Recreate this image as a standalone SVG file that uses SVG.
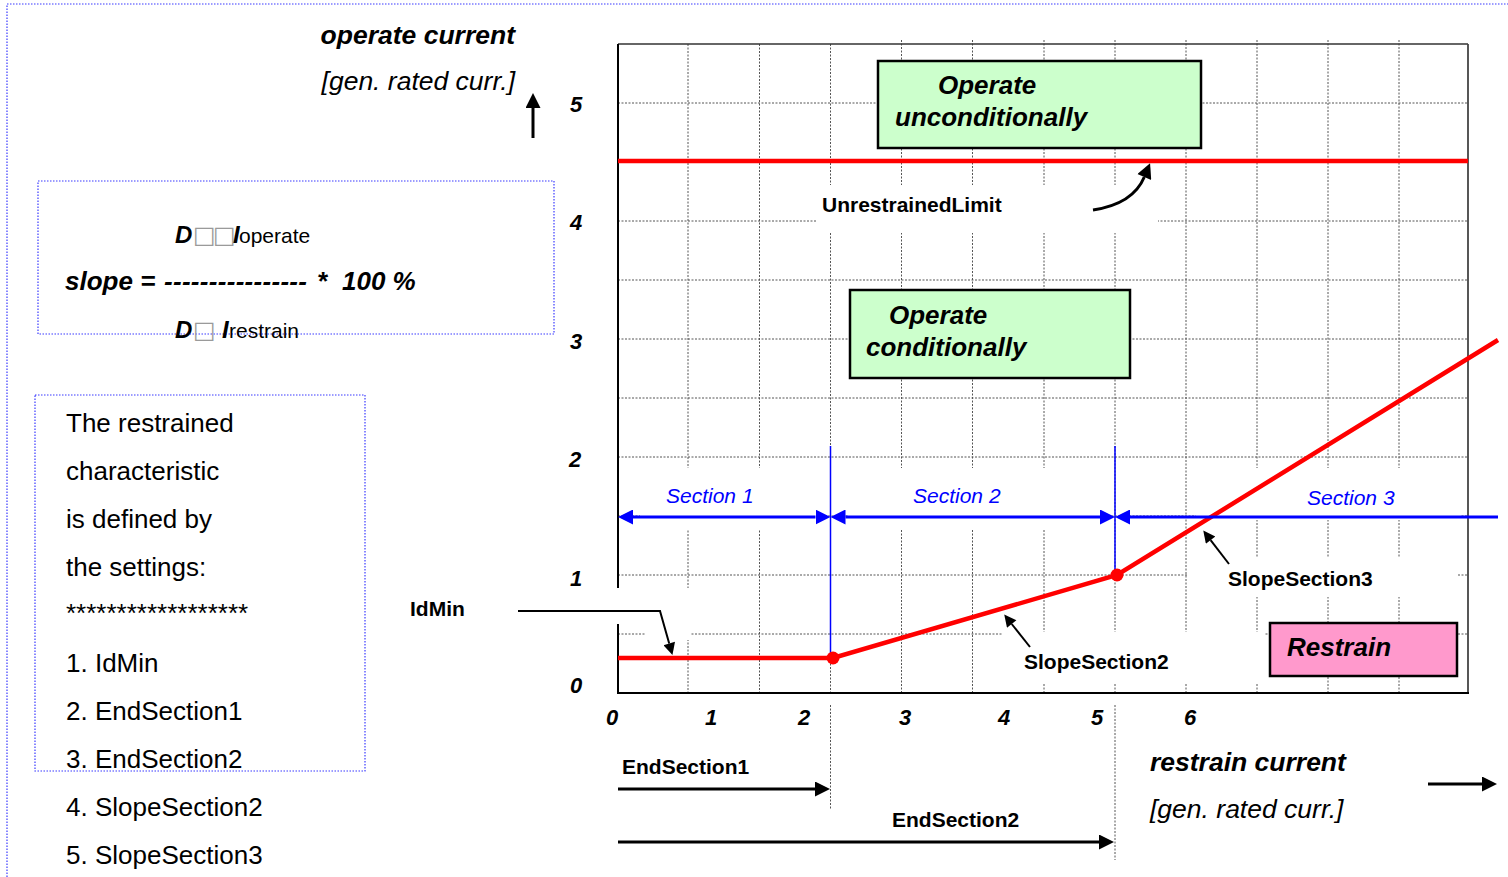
<svg xmlns="http://www.w3.org/2000/svg" width="1508" height="877" viewBox="0 0 1508 877">
  <style>
    text { font-family: "Liberation Sans", Arial, sans-serif; fill: #000; }
    .bi { font-weight: bold; font-style: italic; }
    .it { font-style: italic; }
    .b { font-weight: bold; }
    .ax { font-weight: bold; font-style: italic; font-size: 22px; text-anchor: middle; }
    .lbl { font-weight: bold; font-size: 21px; }
    .sec { font-style: italic; font-size: 21px; fill: #0000FF; }
    .set { font-size: 26px; }
    .tofu { font-family: "DejaVu Sans", sans-serif; font-size: 24px; fill: #9a9a9a; font-weight: normal; font-style: normal; }
    .grid line { stroke: #555; stroke-width: 1; stroke-dasharray: 2 1.5; }
    .frame { stroke: #3a3aff; stroke-width: 1.2; stroke-dasharray: 1.5 1.5; fill: none; }
    .box { stroke: #000; stroke-width: 2.5; }
    .red { stroke: #FF0000; stroke-width: 4.5; fill: none; }
    .blue { stroke: #0000FF; fill: none; }
    .arrow { stroke: #000; stroke-width: 3; fill: none; }
    .call { stroke: #000; stroke-width: 2; fill: none; }
    .back { fill: #fff; }
  </style>
  <defs>
    <marker id="ah" viewBox="0 0 10 10" refX="0" refY="5" markerWidth="16" markerHeight="15" markerUnits="userSpaceOnUse" orient="auto">
      <path d="M0,0 L10,5 L0,10 z" fill="#000"/>
    </marker>
    <marker id="ahs" viewBox="0 0 10 10" refX="0" refY="5" markerWidth="14" markerHeight="12" markerUnits="userSpaceOnUse" orient="auto">
      <path d="M0,0 L10,5 L0,10 z" fill="#000"/>
    </marker>
    <marker id="ahb" viewBox="0 0 10 10" refX="0" refY="5" markerWidth="15" markerHeight="15" markerUnits="userSpaceOnUse" orient="auto-start-reverse">
      <path d="M0,0 L10,5 L0,10 z" fill="#0000FF"/>
    </marker>
  </defs>

  <rect width="1508" height="877" fill="#fff"/>

  <!-- page frame -->
  <path class="frame" d="M7,877 L7,4 L1508,4"/>

  <!-- plot grid -->
  <g class="grid">
    <line x1="688" y1="44" x2="688" y2="693"/>
    <line x1="759.5" y1="44" x2="759.5" y2="693"/>
    <line x1="830.5" y1="44" x2="830.5" y2="693"/>
    <line x1="901.5" y1="40" x2="901.5" y2="693"/>
    <line x1="972.5" y1="40" x2="972.5" y2="693"/>
    <line x1="1044" y1="40" x2="1044" y2="693"/>
    <line x1="1115" y1="40" x2="1115" y2="693"/>
    <line x1="1186" y1="40" x2="1186" y2="693"/>
    <line x1="1257" y1="40" x2="1257" y2="693"/>
    <line x1="1328" y1="40" x2="1328" y2="693"/>
    <line x1="1399" y1="40" x2="1399" y2="693"/>
    <line x1="618" y1="103" x2="1468" y2="103"/>
    <line x1="618" y1="162" x2="1468" y2="162"/>
    <line x1="618" y1="221" x2="1468" y2="221"/>
    <line x1="618" y1="280" x2="1468" y2="280"/>
    <line x1="618" y1="339" x2="1468" y2="339"/>
    <line x1="618" y1="398" x2="1468" y2="398"/>
    <line x1="618" y1="457" x2="1468" y2="457"/>
    <line x1="618" y1="516" x2="1468" y2="516"/>
    <line x1="618" y1="575" x2="1468" y2="575"/>
    <line x1="618" y1="634" x2="1468" y2="634"/>
    <!-- marks for section ends below the axis -->
    <line x1="830.5" y1="705" x2="830.5" y2="810"/>
    <line x1="1115" y1="705" x2="1115" y2="860"/>
  </g>

  <!-- plot frame -->
  <g id="plot-frame">
    <line x1="618" y1="44" x2="1468" y2="44" stroke="#333" stroke-width="1.5"/>
    <line x1="1468" y1="44" x2="1468" y2="693" stroke="#444" stroke-width="1.8"/>
    <line x1="618" y1="44" x2="618" y2="693" stroke="#000" stroke-width="2"/>
    <line x1="617" y1="693" x2="1469" y2="693" stroke="#000" stroke-width="2"/>
  </g>

  <!-- opaque label backgrounds inside the plot -->
  <g id="label-backs">
    <rect class="back" x="816" y="185" width="342" height="48"/>
    <rect class="back" x="640" y="468" width="180" height="61"/>
    <rect class="back" x="848" y="468" width="254" height="61"/>
    <rect class="back" x="1196" y="468" width="264" height="52"/>
    <rect class="back" x="400" y="588" width="290" height="36"/>
    <rect class="back" x="646" y="624" width="44" height="16"/>
    <rect class="back" x="1188" y="557" width="269" height="40"/>
    <rect class="back" x="1003" y="632" width="262" height="51"/>
  </g>

  <!-- axis texts -->
  <g id="axis-y">
    <text class="bi" x="515" y="44" font-size="26.5" text-anchor="end">operate current</text>
    <text class="it" x="515" y="90" font-size="26.5" text-anchor="end">[gen. rated curr.]</text>
    <text class="ax" x="576" y="112">5</text>
    <text class="ax" x="576" y="230">4</text>
    <text class="ax" x="576" y="349">3</text>
    <text class="ax" x="575" y="467">2</text>
    <text class="ax" x="576" y="586">1</text>
    <text class="ax" x="576" y="693">0</text>
  </g>
  <g id="axis-x">
    <text class="ax" x="612" y="725">0</text>
    <text class="ax" x="711" y="725">1</text>
    <text class="ax" x="804" y="725">2</text>
    <text class="ax" x="905" y="725">3</text>
    <text class="ax" x="1004" y="725">4</text>
    <text class="ax" x="1097" y="725">5</text>
    <text class="ax" x="1190" y="725">6</text>
    <text class="bi" x="1150" y="771" font-size="26.5">restrain current</text>
    <text class="it" x="1150" y="818" font-size="26.5">[gen. rated curr.]</text>
  </g>

  <!-- section markers -->
  <g id="sections">
    <line class="blue" x1="830.5" y1="446" x2="830.5" y2="658" stroke-width="1.5"/>
    <line class="blue" x1="1115" y1="446" x2="1115" y2="572" stroke-width="1.5"/>
    <text class="sec" x="666" y="503">Section 1</text>
    <text class="sec" x="913" y="503">Section 2</text>
    <text class="sec" x="1307" y="505">Section 3</text>
  </g>

  <!-- characteristic -->
  <g id="characteristic">
    <line class="red" x1="618" y1="161" x2="1468" y2="161"/>
    <polyline class="red" points="618,658 833,658 1117,575 1498,340"/>
    <circle cx="833" cy="658" r="6.5" fill="#FF0000"/>
    <circle cx="1117" cy="575" r="6.5" fill="#FF0000"/>
  </g>

  <!-- region boxes -->
  <g id="operate-unconditionally">
    <rect class="box" x="878" y="61" width="323" height="87" fill="#CCFFCC"/>
    <text class="bi" x="938" y="94" font-size="26">Operate</text>
    <text class="bi" x="895" y="126" font-size="26">unconditionally</text>
  </g>
  <g id="operate-conditionally">
    <rect class="box" x="850" y="290" width="280" height="88" fill="#CCFFCC"/>
    <text class="bi" x="889" y="324" font-size="26">Operate</text>
    <text class="bi" x="866" y="356" font-size="26">conditionally</text>
  </g>
  <g id="restrain">
    <rect class="box" x="1270" y="623" width="187" height="53" fill="#FF99CC"/>
    <text class="bi" x="1287" y="656" font-size="26">Restrain</text>
  </g>

  <!-- setting labels -->
  <g id="setting-labels">
    <text class="lbl" x="822" y="212">UnrestrainedLimit</text>
    <text class="lbl" x="410" y="616">IdMin</text>
    <text class="lbl" x="1228" y="586">SlopeSection3</text>
    <text class="lbl" x="1024" y="669">SlopeSection2</text>
    <text class="lbl" x="622" y="774">EndSection1</text>
    <text class="lbl" x="892" y="827">EndSection2</text>
  </g>

  <!-- formula box -->
  <g id="formula">
    <rect class="frame" x="38" y="181" width="516" height="153"/>
    <text class="bi" y="243" font-size="24"><tspan x="175">D</tspan><tspan class="tofu" x="193">□</tspan><tspan class="tofu" x="213">□</tspan><tspan x="233">I</tspan><tspan x="239" font-size="21" font-weight="normal" font-style="normal">operate</tspan></text>
    <text class="bi" y="290" font-size="26"><tspan x="65">slope =</tspan><tspan x="164" textLength="143" lengthAdjust="spacing">----------------</tspan><tspan x="317">*</tspan><tspan x="342">100 %</tspan></text>
    <text class="bi" y="338" font-size="24"><tspan x="175">D</tspan><tspan class="tofu" x="193">□</tspan><tspan x="222">I</tspan><tspan x="229" font-size="21" font-weight="normal" font-style="normal">restrain</tspan></text>
  </g>

  <!-- settings list -->
  <g id="settings">
    <rect class="frame" x="35" y="395" width="330" height="376"/>
    <text class="set" x="66" y="432">The restrained</text>
    <text class="set" x="66" y="480">characteristic</text>
    <text class="set" x="66" y="528">is defined by</text>
    <text class="set" x="66" y="576">the settings:</text>
    <text class="set" x="66" y="622">******************</text>
    <text class="set" x="66" y="672">1. IdMin</text>
    <text class="set" x="66" y="720">2. EndSection1</text>
    <text class="set" x="66" y="768">3. EndSection2</text>
    <text class="set" x="66" y="816">4. SlopeSection2</text>
    <text class="set" x="66" y="864">5. SlopeSection3</text>
  </g>

  <!-- connectors -->
  <g id="connectors">
    <line class="arrow" x1="533" y1="138" x2="533" y2="108" marker-end="url(#ah)"/>
    <line class="arrow" x1="1428" y1="784" x2="1482" y2="784" marker-end="url(#ah)"/>
    <line class="arrow" x1="618" y1="789" x2="815" y2="789" marker-end="url(#ah)"/>
    <line class="arrow" x1="618" y1="842" x2="1099" y2="842" marker-end="url(#ah)"/>
    <line class="blue" x1="633" y1="517" x2="815.5" y2="517" stroke-width="3" marker-start="url(#ahb)" marker-end="url(#ahb)"/>
    <line class="blue" x1="845.5" y1="517" x2="1100" y2="517" stroke-width="3" marker-start="url(#ahb)" marker-end="url(#ahb)"/>
    <line class="blue" x1="1130" y1="517" x2="1498" y2="517" stroke-width="3" marker-start="url(#ahb)"/>
    <path class="call" d="M518,611 L660,611 L669.2,643.5" marker-end="url(#ahs)"/>
    <line class="call" x1="1030" y1="647" x2="1011.7" y2="624" marker-end="url(#ahs)"/>
    <line class="call" x1="1229" y1="564" x2="1210.6" y2="540.1" marker-end="url(#ahs)"/>
    <path class="arrow" d="M1093,210 Q1133,204 1144.3,177" marker-end="url(#ah)"/>
  </g>
</svg>
